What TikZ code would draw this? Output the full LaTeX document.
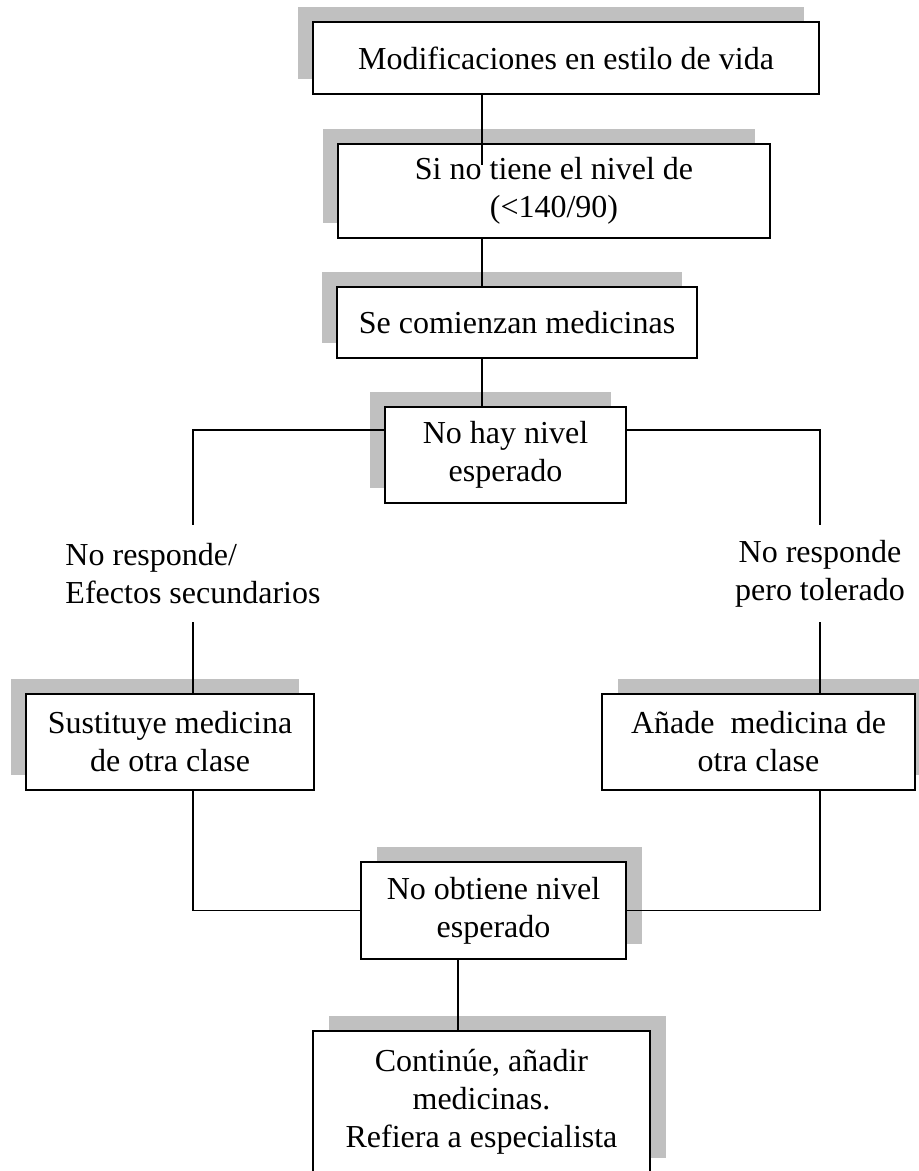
\documentclass[tikz,border=0pt]{standalone}
\usepackage{fontspec}
\setmainfont{Liberation Serif}
\usepackage{tikz}
\usetikzlibrary{shadows}
\definecolor{silver}{HTML}{C0C0C0}

\begin{document}
\begin{tikzpicture}[x=0.5pt, y=-0.5pt,
    box/.style={draw, line width=1pt, fill=white, inner sep=0pt, align=center,
                font=\fontsize{16}{19}\selectfont},
    shadowleft/.style={drop shadow={shadow xshift=-7.5pt, shadow yshift=7.5pt,
                fill=silver, opacity=1}},
    shadowright/.style={drop shadow={shadow xshift=8pt, shadow yshift=7.5pt,
                fill=silver, opacity=1}},
    branch/.style={inner sep=0pt, minimum height=48.5pt,
                font=\fontsize{16}{19}\selectfont},
    link/.style={line width=0.7pt}]

    \useasboundingbox (0,0) rectangle (918,1171);

    % Lifestyle and first steps
    \node[box, shadowleft, minimum width=253pt, minimum height=36pt] (life)
        at (566,58) {Modificaciones en estilo de vida};
    \node[box, shadowleft, minimum width=216pt, minimum height=47pt] (target)
        at (554,191) {Si no tiene el nivel de\\(<140/90)};
    \node[box, shadowleft, minimum width=180pt, minimum height=35.5pt] (start)
        at (517,322.5) {Se comienzan medicinas};
    \node[box, shadowleft, minimum width=120.5pt, minimum height=48pt] (nolevel)
        at (505.5,455) {No hay nivel\\esperado};

    % Branch labels
    \node[branch, align=left] (noresp) at (193,573.5)
        {No responde/\\Efectos secundarios};
    \node[branch, align=center] (tolerated) at (820,573.5)
        {No responde\\pero tolerado};

    % Second line treatment
    \node[box, shadowleft, minimum width=144pt, minimum height=48pt] (swap)
        at (170,742) {Sustituye medicina\\de otra clase};
    \node[box, shadowright, minimum width=156.5pt, minimum height=48pt] (add)
        at (758.5,742) {Añade~ medicina de\\otra clase};
    \node[box, shadowright, minimum width=132.5pt, minimum height=48.5pt] (fail)
        at (493.5,910.5) {No obtiene nivel\\esperado};
    \node[box, shadowright, minimum width=168.5pt, minimum height=71pt] (refer)
        at (481.5,1102) {Continúe, añadir\\medicinas.\\Refiera a especialista};

    % Connectors
    \coordinate (trunk) at (482,165);
    \draw[link] (trunk |- life.south) -- (trunk);
    \draw[link] (trunk |- target.south) -- (trunk |- start.north);
    \draw[link] (trunk |- start.south) -- (trunk |- nolevel.north);

    \draw[link] (noresp.north) |- ([yshift=12.5pt]nolevel.west);
    \draw[link] (tolerated.north) |- ([yshift=12.5pt]nolevel.east);
    \draw[link] (noresp.south) -- (noresp.south |- swap.north);
    \draw[link] (tolerated.south) -- (tolerated.south |- add.north);

    \draw[link] (noresp.south |- swap.south) |- (fail.west);
    \draw[link] (tolerated.south |- add.south) |- (fail.east);
    \draw[link] ([xshift=-11.75pt]refer.north) -- ([xshift=-11.75pt]refer.north |- fail.south);

\end{tikzpicture}
\end{document}
